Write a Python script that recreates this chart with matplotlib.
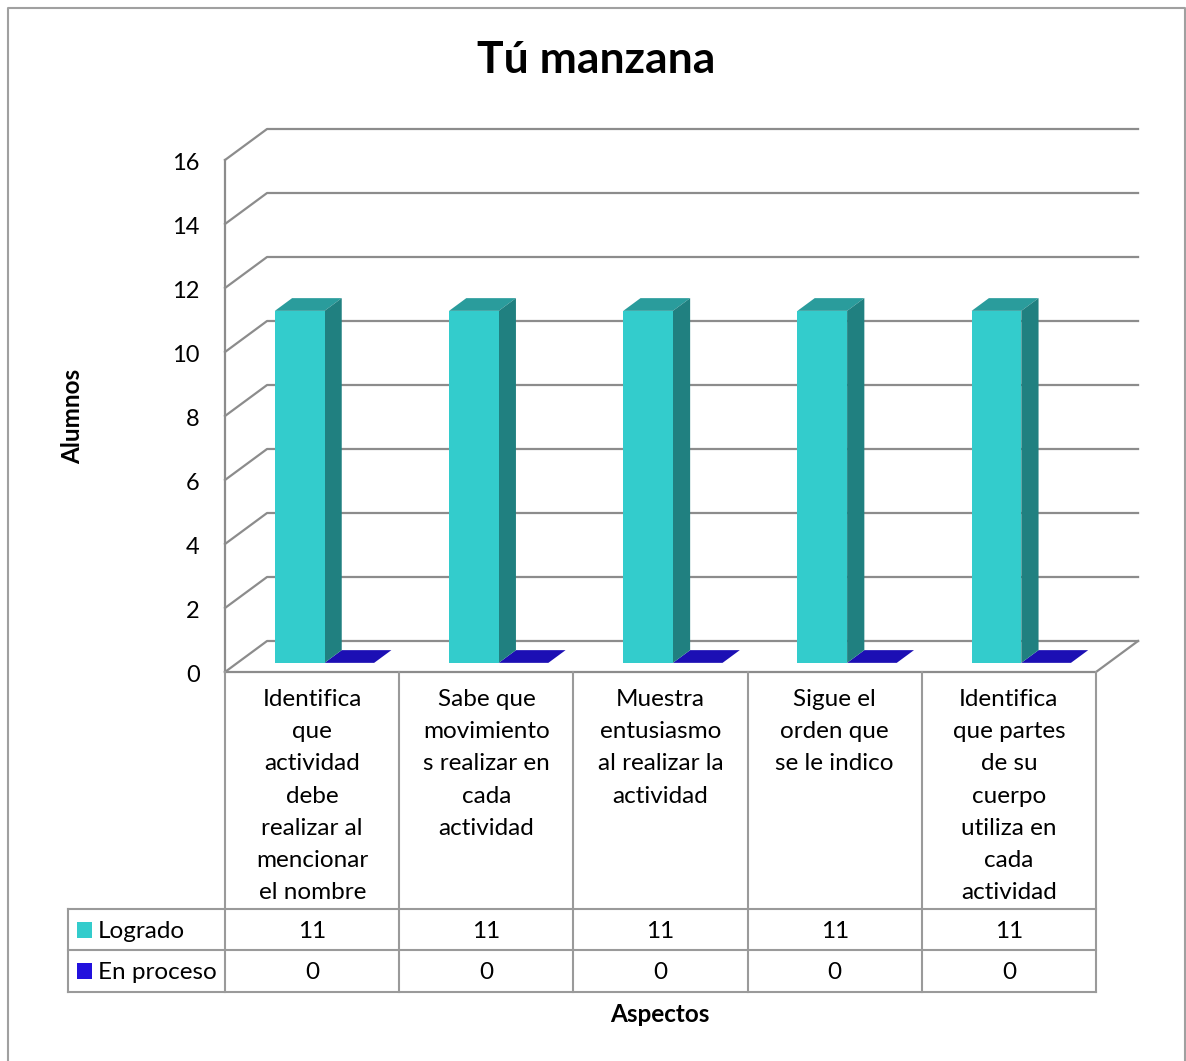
import matplotlib
matplotlib.use("Agg")
import matplotlib.pyplot as plt
from matplotlib.patches import Polygon, Rectangle

plt.rcParams["font.family"] = ["Lato", "DejaVu Sans"]

# data
title = "Tú manzana"
categories = [
    "Identifica\nque\nactividad\ndebe\nrealizar al\nmencionar\nel nombre",
    "Sabe que\nmovimiento\ns realizar en\ncada\nactividad",
    "Muestra\nentusiasmo\nal realizar la\nactividad",
    "Sigue el\norden que\nse le indico",
    "Identifica\nque partes\nde su\ncuerpo\nutiliza en\ncada\nactividad",
]
series_names = ["Logrado", "En proceso"]
logrado = [11, 11, 11, 11, 11]
en_proceso = [0, 0, 0, 0, 0]
y_ticks = [0, 2, 4, 6, 8, 10, 12, 14, 16]
x_label = "Aspectos"
y_label = "Alumnos"

# styling
face_colors = [("#33CCCC", "#208080", "#2A9C9C"), ("#1C0FB4", "#14098A", "#1A0DAC")]
legend_colors = ["#33CCCC", "#2211DD"]
grid_color = "#8C8C8C"
table_color = "#9A9A9A"
FS = 17.5

W_PX, H_PX = 1186, 1061


def fx(px):
    return px / W_PX


def fy(py):
    return 1 - py / H_PX


fig = plt.figure(figsize=(W_PX / 100, H_PX / 100), dpi=100)

# outer chart border
fig.add_artist(plt.Line2D([fx(8), fx(8), fx(1185), fx(1185)],
                          [fy(1070), fy(8), fy(8), fy(1070)],
                          color="#A0A0A0", lw=1.5))

fig.text(fx(596), fy(60), title, ha="center", va="center",
         fontsize=32, fontweight="bold")

# 3D plot area: x in category units, y in value units (front plane)
n = len(categories)
ax = fig.add_axes([fx(225), fy(672), (1096 - 225) / W_PX, (672 - 160) / H_PX])
ax.set_xlim(0, n)
ax.set_ylim(0, 16)
ax.axis("off")

DX = 42 / 174.0   # depth offset in x units
DY = 31 / 32.0    # depth offset in y units

for v in y_ticks:
    ax.plot([0, DX, n + DX], [v, v + DY, v + DY], color=grid_color,
            lw=1.6, clip_on=False, zorder=1)
    ax.text(-0.145, v - 0.1, str(v), ha="right", va="center", fontsize=17)
ax.plot([0, 0], [0, y_ticks[-1]], color=grid_color, lw=1.6, clip_on=False, zorder=1)
# floor
ax.plot([0, n, n + DX], [0, 0, DY], color=grid_color, lw=1.6, clip_on=False, zorder=1)

W = 0.285
f1, f2 = 0.295, 0.705
for s, vals in enumerate([logrado, en_proceso]):
    front_c, side_c, top_c = face_colors[s]
    for i, v in enumerate(vals):
        x0 = i + 0.5 - W + s * W
        xa, xb = x0 + f1 * DX, x0 + W + f1 * DX
        xc, xd = x0 + f2 * DX, x0 + W + f2 * DX
        ya, yb = f1 * DY, f2 * DY
        z = 3 + i * 2 - s
        if v > 0:
            ax.add_patch(Polygon([(xa, ya), (xb, ya), (xb, v + ya), (xa, v + ya)],
                                 closed=True, fc=front_c, ec="none", zorder=z + 0.2, clip_on=False))
            ax.add_patch(Polygon([(xb, ya), (xd, yb), (xd, v + yb), (xb, v + ya)],
                                 closed=True, fc=side_c, ec="none", zorder=z + 0.1, clip_on=False))
        ax.add_patch(Polygon([(xa, v + ya), (xb, v + ya), (xd, v + yb), (xc, v + yb)],
                             closed=True, fc=top_c if v > 0 else front_c, ec="none",
                             zorder=z, clip_on=False))

ax.text(-0.145 - 0.73, 8, y_label, rotation=90, ha="center", va="center",
        fontsize=FS, fontweight="bold")

# data table
LEG = (225 - 68) / 174.0
row_edges = [0, 237, 278, 320]
tax = fig.add_axes([fx(68), fy(992), (1096 - 68) / W_PX, (992 - 672) / H_PX])
tax.set_xlim(-LEG, n)
tax.set_ylim(row_edges[-1], 0)
tax.axis("off")

for i in range(n + 1):
    tax.plot([i, i], [row_edges[0], row_edges[-1]], color=table_color, lw=1.5, clip_on=False)
tax.plot([-LEG, -LEG], [row_edges[1], row_edges[-1]], color=table_color, lw=1.5, clip_on=False)
for r in row_edges[1:]:
    tax.plot([-LEG, n], [r, r], color=table_color, lw=1.5, clip_on=False)

for i, cat in enumerate(categories):
    tax.text(i + 0.5, 17, cat, ha="center", va="top", fontsize=FS, linespacing=1.66)

for s, vals in enumerate([logrado, en_proceso]):
    yc = (row_edges[s + 1] + row_edges[s + 2]) / 2
    tax.add_patch(Rectangle((-LEG + 0.05, yc - 8), 0.085, 16,
                            fc=legend_colors[s], ec="none", clip_on=False))
    tax.text(-LEG + 0.17, yc + 1.5, series_names[s], ha="left", va="center", fontsize=FS)
    for i, v in enumerate(vals):
        tax.text(i + 0.5, yc + 1.5, str(v), ha="center", va="center", fontsize=FS)

fig.text(fx(660), fy(1014), x_label, ha="center", va="center",
         fontsize=FS, fontweight="bold")

fig.savefig("out.png", dpi=100)
